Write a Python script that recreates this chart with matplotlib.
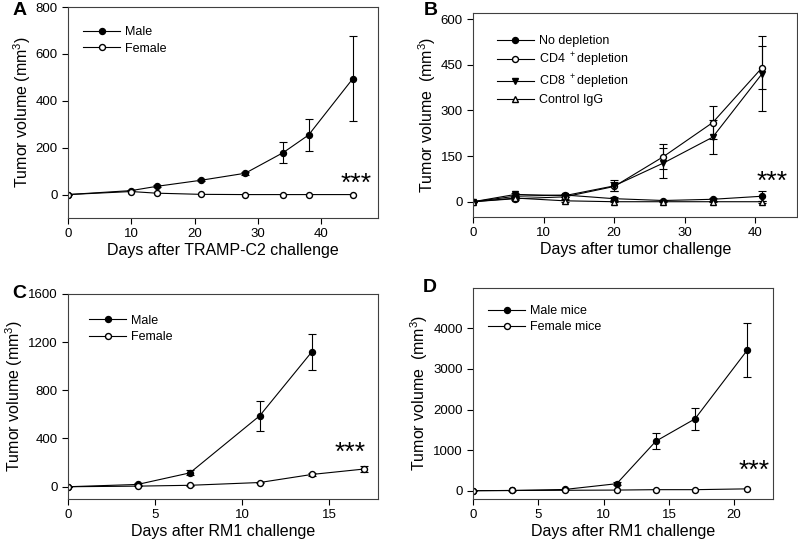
import matplotlib
matplotlib.use("Agg")
import matplotlib.pyplot as plt
from matplotlib.lines import Line2D

plt.rcParams.update({
    "font.family": ["Liberation Sans", "DejaVu Sans"],
    "font.size": 9,
    "axes.labelsize": 11.5,
    "axes.labelpad": 2,
    "xtick.labelsize": 9.5,
    "ytick.labelsize": 9.5,
    "legend.fontsize": 9,
    "axes.linewidth": 0.8,
    "axes.edgecolor": "0.25",
    "xtick.direction": "out",
    "ytick.direction": "out",
    "mathtext.default": "regular",
})

# (A) TRAMP-C2
a_days = [0, 10, 14, 21, 28, 34, 38, 45]
a_male = [0, 17, 35, 61, 91, 179, 254, 495]
a_male_err = [0, 3, 4, 5, 6, 45, 67, 180]
a_female = [0, 13, 6, 1, 0, 0, 0, 0]

# (B) depletion
b_days = [0, 6, 13, 20, 27, 34, 41]
b_nodep = [0, 18, 22, 10, 4, 8, 18]
b_nodep_err = [0, 4, 5, 5, 3, 5, 16]
b_cd4 = [0, 10, 16, 50, 148, 260, 440]
b_cd4_err = [0, 4, 6, 15, 41, 55, 70]
b_cd8 = [0, 24, 20, 52, 127, 212, 420]
b_cd8_err = [0, 5, 6, 18, 48, 55, 123]
b_igg = [0, 12, 3, 0, 0, 0, 0]
b_igg_err = [0, 3, 3, 2, 2, 2, 3]

# (C) RM1
c_days_m = [0, 4, 7, 11, 14]
c_male = [0, 19, 115, 588, 1120]
c_male_err = [0, 8, 20, 125, 148]
c_days_f = [0, 4, 7, 11, 14, 17]
c_female = [0, 5, 12, 35, 102, 147]
c_female_err = [0, 3, 4, 6, 15, 25]

# (D) RM1 mice
d_days = [0, 3, 7, 11, 14, 17, 21]
d_male = [0, 5, 30, 172, 1220, 1770, 3460]
d_male_err = [0, 5, 10, 30, 195, 280, 670]
d_female = [0, 5, 10, 15, 25, 25, 45]

fig = plt.figure(figsize=(7.98, 5.41), dpi=100)
axA = fig.add_axes([0.085, 0.597, 0.389, 0.390])
axB = fig.add_axes([0.593, 0.599, 0.406, 0.377])
axC = fig.add_axes([0.085, 0.078, 0.389, 0.379])
axD = fig.add_axes([0.593, 0.078, 0.376, 0.390])

FILLED = dict(marker="o", mfc="black")
HOLLOW = dict(marker="o", mfc="white")
DOWN = dict(marker="v", mfc="black")
UP = dict(marker="^", mfc="white")


def series(ax, x, y, err, style, label):
    ms = 5 if style["marker"] in "v^" else 4.3
    ax.errorbar(x, y, yerr=err, color="black", marker=style["marker"],
                ms=ms, mfc=style["mfc"], mec="black", lw=0.8, capsize=3,
                elinewidth=0.8, capthick=0.8)
    return Line2D([], [], color="black", marker=style["marker"], ms=ms,
                  mfc=style["mfc"], mec="black", lw=0.8, label=label)


def finish(ax, letter, letter_xy, xlabel, ylabel, stars_xy, handles,
           leg_xy, spacing=0.35):
    ax.tick_params(top=False, right=False, length=4, width=0.8)
    ax.set_xlabel(xlabel)
    ax.set_ylabel(ylabel)
    ax.text(*stars_xy, "***", ha="center", va="center", fontsize=19)
    ax.text(*letter_xy, letter, transform=ax.transAxes, fontsize=14,
            fontweight="bold", ha="left", va="center")
    ax.legend(handles=handles, loc="upper left", frameon=False,
              handlelength=3.0, handletextpad=0.4, labelspacing=spacing,
              bbox_to_anchor=leg_xy, borderaxespad=0.3)


# A
ax = axA
h = [series(ax, a_days, a_male, a_male_err, FILLED, "Male"),
     series(ax, a_days, a_female, None, HOLLOW, "Female")]
ax.set_xlim(0, 49)
ax.set_ylim(-100, 800)
ax.set_xticks([0, 10, 20, 30, 40])
ax.set_yticks([0, 200, 400, 600, 800])
finish(ax, "A", (-0.177, 0.985), "Days after TRAMP-C2 challenge",
       "Tumor volume (mm$^3$)", (45.5, 45), h, (0.02, 0.95))

# B
ax = axB
h = [series(ax, b_days, b_nodep, b_nodep_err, FILLED, "No depletion"),
     series(ax, b_days, b_cd4, b_cd4_err, HOLLOW, "CD4 $^+$depletion"),
     series(ax, b_days, b_cd8, b_cd8_err, DOWN, "CD8 $^+$depletion"),
     series(ax, b_days, b_igg, b_igg_err, UP, "Control IgG")]
ax.set_xlim(0, 46)
ax.set_ylim(-50, 620)
ax.set_xticks([0, 10, 20, 30, 40])
ax.set_yticks([0, 150, 300, 450, 600])
finish(ax, "B", (-0.154, 1.01), "Days after tumor challenge",
       "Tumor volume  (mm$^3$)", (42.5, 66), h, (0.045, 0.935),
       spacing=0.3)

# C
ax = axC
h = [series(ax, c_days_m, c_male, c_male_err, FILLED, "Male"),
     series(ax, c_days_f, c_female, c_female_err, HOLLOW, "Female")]
ax.set_xlim(0, 17.8)
ax.set_ylim(-100, 1600)
ax.set_xticks([0, 5, 10, 15])
ax.set_yticks([0, 400, 800, 1200, 1600])
finish(ax, "C", (-0.18, 1.0), "Days after RM1 challenge",
       "Tumor volume (mm$^3$)", (16.2, 280), h, (0.04, 0.94))

# D
ax = axD
h = [series(ax, d_days, d_male, d_male_err, FILLED, "Male mice"),
     series(ax, d_days, d_female, None, HOLLOW, "Female mice")]
ax.set_xlim(0, 23)
ax.set_ylim(-200, 5000)
ax.set_xticks([0, 5, 10, 15, 20])
ax.set_yticks([0, 1000, 2000, 3000, 4000])
finish(ax, "D", (-0.167, 1.0), "Days after RM1 challenge",
       "Tumor volume  (mm$^3$)", (21.5, 480), h, (0.02, 0.96))

fig.savefig("out.png", dpi=100)
